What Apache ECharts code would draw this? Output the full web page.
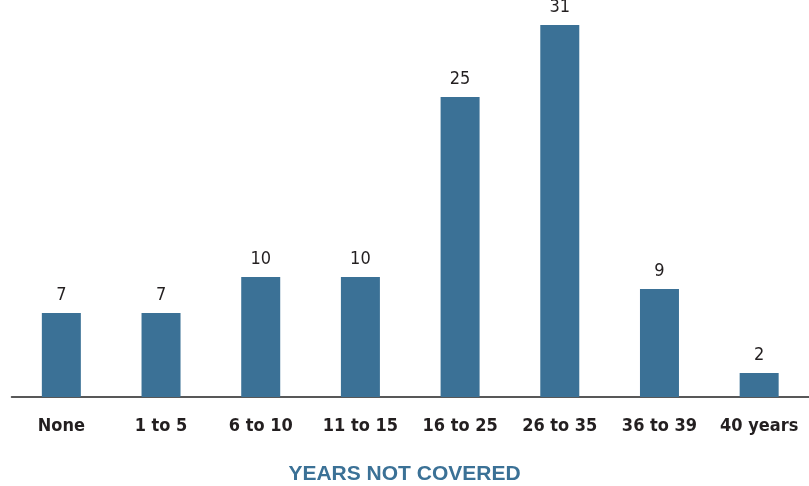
<!DOCTYPE html>
<html>
<head>
<meta charset="utf-8">
<script src="https://cdn.jsdelivr.net/npm/echarts@6/dist/echarts.min.js"></script>
<style>html,body{margin:0;padding:0;background:#fff}#c{width:809px;height:486px}</style>
</head>
<body>
<div id="c"></div>
<script>
var categories = ['None', '1 to 5', '6 to 10', '11 to 15', '16 to 25', '26 to 35', '36 to 39', '40 years'];
var values = [7, 7, 10, 10, 25, 31, 9, 2];
var axisTitle = 'YEARS NOT COVERED';

var chart = echarts.init(document.getElementById('c'), null, {renderer: 'canvas'});
chart.setOption({
  animation: false,
  title: {
    text: axisTitle,
    left: 'center', top: 459,
    textStyle: {fontFamily: 'Liberation Sans', fontWeight: 'bold', fontSize: 21, color: '#3b7196'}
  },
  grid: {left: 11.5, width: 800, top: 1, height: 396, containLabel: false},
  xAxis: {
    type: 'category', data: categories,
    axisLine: {show: true, lineStyle: {color: '#222', width: 1.5}},
    axisTick: {show: false},
    axisLabel: {interval: 0, margin: 20, fontFamily: 'DejaVu Sans Condensed', fontWeight: 'bold', fontSize: 18, color: '#231f20'}
  },
  yAxis: {type: 'value', min: 0, max: 33, show: false, splitLine: {show: false}},
  series: [{
    type: 'bar', data: values, barWidth: 39,
    itemStyle: {color: '#3b7196'},
    label: {show: true, position: 'top', distance: 9, fontFamily: 'DejaVu Sans Condensed', fontSize: 18, color: '#231f20'}
  }]
});
</script>
</body>
</html>
